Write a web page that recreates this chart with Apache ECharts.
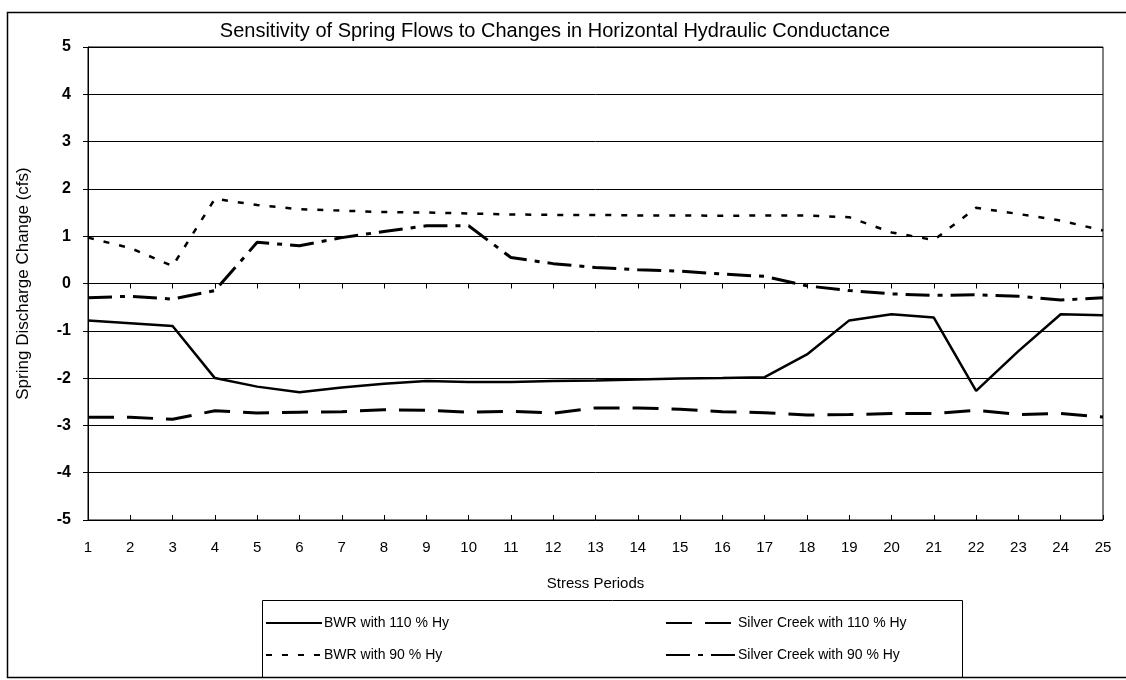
<!DOCTYPE html>
<html>
<head>
<meta charset="utf-8">
<script src="https://cdn.jsdelivr.net/npm/echarts@6/dist/echarts.min.js"></script>
<style>
  html, body { margin: 0; padding: 0; background: #fff; }
  #chart { width: 1126px; height: 680px; }
</style>
</head>
<body>
<div id="chart"></div>
<script>
// Stress periods along the horizontal axis
const periods = ['1','2','3','4','5','6','7','8','9','10','11','12','13','14','15','16','17','18','19','20','21','22','23','24','25'];

// Spring discharge change (cfs) for each run
const bwr110 = [-0.78, -0.84, -0.90, -2.00, -2.18, -2.30, -2.20, -2.12, -2.06, -2.08, -2.08, -2.06, -2.05, -2.03, -2.01, -2.00, -1.98, -1.50, -0.78, -0.65, -0.72, -2.27, -1.43, -0.65, -0.67];
const bwr90 = [0.97, 0.75, 0.37, 1.79, 1.66, 1.57, 1.54, 1.51, 1.50, 1.48, 1.46, 1.45, 1.45, 1.44, 1.44, 1.43, 1.44, 1.44, 1.40, 1.08, 0.92, 1.60, 1.47, 1.33, 1.12];
const silver110 = [-2.83, -2.83, -2.87, -2.69, -2.74, -2.72, -2.71, -2.67, -2.68, -2.72, -2.70, -2.74, -2.63, -2.63, -2.66, -2.71, -2.73, -2.78, -2.77, -2.75, -2.75, -2.68, -2.77, -2.75, -2.82];
const silver90 = [-0.30, -0.27, -0.33, -0.15, 0.87, 0.80, 0.97, 1.10, 1.22, 1.22, 0.55, 0.42, 0.34, 0.29, 0.26, 0.20, 0.15, -0.05, -0.15, -0.22, -0.25, -0.24, -0.27, -0.35, -0.30];

const names = ['BWR with 110 % Hy', 'BWR with 90 % Hy', 'Silver Creek with 110 % Hy', 'Silver Creek with 90 % Hy'];

const font = '"Liberation Sans", Arial, sans-serif';
const chart = echarts.init(document.getElementById('chart'), null, { renderer: 'canvas' });

function lineSeries(name, data, width, type) {
  return {
    name: name,
    type: 'line',
    data: data,
    symbol: 'none',
    showSymbol: false,
    smooth: false,
    animation: false,
    color: '#000',
    lineStyle: { color: '#000', width: width, type: type, cap: 'butt' },
    emphasis: { disabled: true }
  };
}

const legendCommon = {
  orient: 'vertical',
  top: 616,
  itemHeight: 14,
  itemGap: 18,
  padding: 0,
  selectedMode: false,
  // keep only the line sample, no marker in the middle
  itemStyle: { opacity: 0 },
  textStyle: { fontFamily: font, fontSize: 14, color: '#000', padding: [0, 0, 0, -3] }
};

chart.setOption({
  backgroundColor: '#fff',
  animation: false,
  textStyle: { fontFamily: font, color: '#000' },
  title: {
    text: 'Sensitivity of Spring Flows to Changes in Horizontal Hydraulic Conductance',
    left: 550,
    textAlign: 'center',
    top: 16,
    textStyle: { fontFamily: font, fontSize: 20, fontWeight: 'normal', color: '#000' }
  },
  grid: {
    left: 88, right: 23, top: 47, bottom: 160,
    show: true, borderColor: '#000', borderWidth: 1, backgroundColor: 'transparent'
  },
  xAxis: [{
    type: 'category',
    data: periods,
    boundaryGap: false,
    name: 'Stress Periods',
    nameLocation: 'middle',
    nameGap: 56,
    nameTextStyle: { fontFamily: font, fontSize: 15, color: '#000' },
    axisLine: { lineStyle: { color: '#000', width: 1 } },
    axisTick: { show: true, length: 5, lineStyle: { color: '#000' } },
    axisLabel: { fontFamily: font, fontSize: 15, color: '#000', margin: 20 },
    splitLine: { show: false }
  }, {
    type: 'category',
    data: periods,
    boundaryGap: false,
    position: 'bottom',
    axisLine: { show: false },
    axisTick: { show: true, inside: true, length: 5, lineStyle: { color: '#000' } },
    axisLabel: { show: false },
    splitLine: { show: false }
  }],
  yAxis: {
    type: 'value',
    min: -5, max: 5, interval: 1,
    name: 'Spring Discharge Change (cfs)',
    nameLocation: 'middle',
    nameGap: 56,
    nameTextStyle: { fontFamily: font, fontSize: 17, color: '#000' },
    axisLine: { show: true, lineStyle: { color: '#000', width: 1 } },
    axisTick: { show: true, length: 5, lineStyle: { color: '#000' } },
    axisLabel: { fontFamily: font, fontSize: 16, fontWeight: 'bold', color: '#000', margin: 17 },
    splitLine: { show: true, lineStyle: { color: '#000', width: 1 } }
  },
  legend: [
    Object.assign({}, legendCommon, { data: [names[0], names[1]], left: 265, itemWidth: 56 }),
    Object.assign({}, legendCommon, { data: [names[2], names[3]], left: 665, itemWidth: 70 })
  ],
  graphic: [{
    type: 'rect',
    shape: { x: 7.5, y: 12.5, width: 1140, height: 665 },
    style: { fill: 'none', stroke: '#000', lineWidth: 1.5 },
    silent: true, z: -1
  }, {
    type: 'rect',
    shape: { x: 262.5, y: 600.5, width: 700, height: 77 },
    style: { fill: 'none', stroke: '#000', lineWidth: 1 },
    silent: true
  }],
  series: [
    lineSeries(names[0], bwr110, 2.5, 'solid'),
    lineSeries(names[1], bwr90, 2.5, [6, 10]),
    lineSeries(names[2], silver110, 3, [26, 13]),
    lineSeries(names[3], silver90, 3, [24, 8, 5, 8])
  ]
});
</script>
</body>
</html>
